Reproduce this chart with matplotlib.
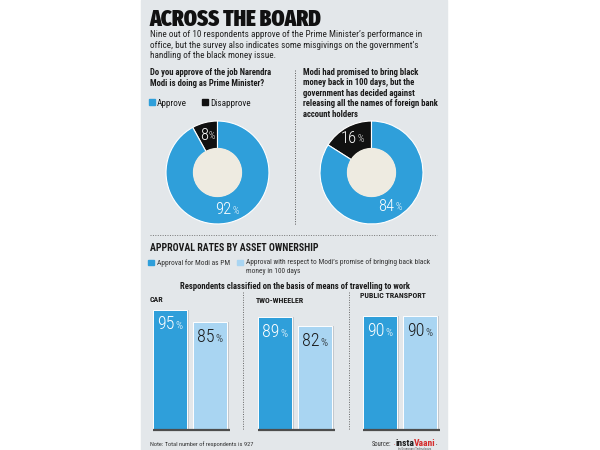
import matplotlib
matplotlib.use("Agg")
import matplotlib.pyplot as plt
import numpy as np
from matplotlib.patches import Rectangle, Circle
from matplotlib import font_manager as fm

# ---------------- data ----------------
title = "ACROSS THE BOARD"
subtitle_lines = [
    "Nine out of 10 respondents approve of the Prime Minister\u2019s performance in",
    "office, but the survey also indicates some misgivings on the government\u2019s",
    "handling of the black money issue.",
]
q1_lines = ["Do you approve of the job Narendra", "Modi is doing as Prime Minister?"]
q2_lines = ["Modi had promised to bring black", "money back in 100 days, but the",
            "government has decided against", "releasing all the names of foreign bank",
            "account holders"]
pie_labels = ["Disapprove", "Approve"]
pie1_values = [8, 92]
pie2_values = [16, 84]

section_title = "APPROVAL RATES BY ASSET OWNERSHIP"
series_names = ["Approval for Modi as PM",
                "Approval with respect to Modi\u2019s promise of bringing back black\nmoney in 100 days"]
bar_subtitle = "Respondents classified on the basis of means of travelling to work"
categories = ["CAR", "TWO-WHEELER", "PUBLIC TRANSPORT"]
approval_pm = [95, 89, 90]
approval_promise = [85, 82, 90]
note = "Note: Total number of respondents is 927"

# ---------------- style ----------------
BG = "#e3e7ea"
BLUE = "#2f9fda"
LBLUE = "#a9d5f2"
BLACK = "#111111"
CREAM = "#eeebe1"
FONT = ["Roboto Condensed", "DejaVu Sans"]


def pick_title_font():
    for fam, wt in (("Fira Sans Extra Condensed", 900), ("Fira Sans Extra Condensed", 800),
                    ("Fira Sans Extra Condensed", 700), ("Roboto Condensed", 700)):
        try:
            p = fm.FontProperties(family=fam, weight=wt, style="normal")
            path = fm.findfont(p, fallback_to_default=False)
        except Exception:
            continue
        base = path.split("/")[-1].lower()
        if "italic" not in base and fam.split()[0].lower() in base:
            return fm.FontProperties(fname=path, size=16.3)
    return fm.FontProperties(family="DejaVu Sans", weight="bold", size=15)


fig = plt.figure(figsize=(6, 4.5), dpi=100)
fig.patch.set_facecolor("white")

bg = fig.add_axes([0, 0, 1, 1])
bg.set_xlim(0, 600)
bg.set_ylim(450, 0)
bg.axis("off")
bg.add_patch(Rectangle((141, 0), 306, 450, color=BG, zorder=0))


def t(x, y, s, size=7, weight="normal", color="#1a1a1a", family=FONT, **kw):
    kw.setdefault("va", "baseline")
    return bg.text(x, y, s, fontsize=size, fontweight=weight, color=color,
                   family=family, **kw)


# title and subtitle
bg.text(149.5, 25.5, title, fontproperties=pick_title_font(), color="#111111", va="baseline")
for i, line in enumerate(subtitle_lines):
    t(150, 37 + 10.6 * i, line, size=6.6, color="#222222")

# questions
for i, line in enumerate(q1_lines):
    t(150, 75 + 10.5 * i, line, size=6.2, weight="bold")
for i, line in enumerate(q2_lines):
    t(303, 75 + 10.4 * i, line, size=6.2, weight="bold")

# legend (pies)
bg.add_patch(Rectangle((149, 99), 6, 6, color=BLUE))
t(157, 105.5, pie_labels[1], size=6.6)
bg.add_patch(Rectangle((202, 99), 5.5, 6, color=BLACK))
t(210, 105.5, pie_labels[0], size=6.6)

# separators
bg.plot([294.5, 294.5], [70, 225], ls=(0, (1, 1.5)), color="#555555", lw=0.7)
bg.plot([150, 437], [235, 235], ls=(0, (1, 1.5)), color="#777777", lw=0.7)
for xs in (243, 349):
    bg.plot([xs, xs], [292, 430], ls=(0, (1, 1.5)), color="#666666", lw=0.7)


def pct_label(ax, x, y, num, size, color, dy=0, va="center"):
    num_t = ax.annotate(str(num), xy=(x, y), xytext=(-size * 0.22, dy),
                        textcoords="offset points", ha="center", va=va,
                        fontsize=size, color=color, family=FONT, fontweight="light")
    ax.annotate("%", xy=(1, 0.12), xycoords=num_t, xytext=(0.5, 0),
                textcoords="offset points", ha="left", va="bottom",
                fontsize=size * 0.6, color=color, family=FONT, fontweight="light")


# donuts
def donut(cx, cy, r, values, txtcolors):
    ax = fig.add_axes([(cx - r) / 600, 1 - (cy + r) / 450, 2 * r / 600, 2 * r / 450])
    wedges, _ = ax.pie(values, colors=[BLACK, BLUE], startangle=90, counterclock=True,
                       radius=1, wedgeprops=dict(width=0.54, edgecolor="white", linewidth=0.8))
    ax.add_patch(Circle((0, 0), 0.465, color=CREAM, zorder=5))
    ax.set_xlim(-1.02, 1.02)
    ax.set_ylim(-1.02, 1.02)
    ax.axis("off")
    for w, v, c in zip(wedges, values, txtcolors):
        ang = np.deg2rad((w.theta1 + w.theta2) / 2)
        pct_label(ax, 0.75 * np.cos(ang), 0.75 * np.sin(ang), v, 12, c)


donut(217.5, 172.5, 52.5, pie1_values, ["white", "white"])
donut(371.5, 172.5, 52.5, pie2_values, ["white", "white"])

# section heading and legend
t(150, 251, section_title, size=7.1, weight="bold")
bg.add_patch(Rectangle((148, 259.5), 5.5, 5.5, color=BLUE))
t(157, 265, series_names[0], size=5.4, color="#333333")
bg.add_patch(Rectangle((237, 259.5), 5.5, 5.5, color=LBLUE))
t(246, 258.5, series_names[1], size=5.3, color="#333333", linespacing=1.35, va="top")
t(295, 289, bar_subtitle, size=6.2, weight="bold", ha="center")

for lab, x, y in zip(categories, (150, 256, 360), (302, 303, 298)):
    t(x, y, lab, size=5.7, weight="bold")

# bars
bx = fig.add_axes([141 / 600, 20 / 450, 306 / 600, 126.5 / 450])
bx.set_xlim(-0.4667, 2.4476)
bx.set_ylim(0, 100)
bx.axis("off")
idx = np.arange(len(categories))
off, w = 0.1905, 0.3238
for vals, xpos, col in ((approval_pm, idx - off, BLUE), (approval_promise, idx + off, LBLUE)):
    bx.bar(xpos + 0.022, vals, width=w, color="#c3c8cd", zorder=1, clip_on=False)
    bx.bar(xpos, vals, width=w, color=col, edgecolor="white", linewidth=0.7,
           zorder=2, clip_on=False)
for i in idx:
    bx.hlines(0, i - off - w / 2, i + off + w / 2 + 0.03, color="#4d4d4d", lw=1.6,
              zorder=3, clip_on=False)
for xv, v in zip(idx - off, approval_pm):
    pct_label(bx, xv, v, v, 13, "white", dy=-4, va="top")
for xv, v in zip(idx + off, approval_promise):
    pct_label(bx, xv, v, v, 13, "#1a1a1a", dy=-4, va="top")

# note and source
t(150, 446, note, size=4.6, color="#333333")
t(372, 446, "Source:", size=4.8, color="#333333")
insta = t(396, 446, "insta", size=6.8, weight="bold", color="#1a1a1a", ha="left")
vaani = bg.annotate("Vaani", xy=(1, 0), xycoords=insta, xytext=(-0.9, 0),
                    textcoords="offset points", ha="left", va="bottom",
                    fontsize=6.8, fontweight="bold", color="#d52b2b", family=FONT)
bg.annotate("\u2022", xy=(1, 0.05), xycoords=vaani, xytext=(0.3, 0),
            textcoords="offset points", ha="left", va="bottom",
            fontsize=3, color="#1a1a1a", family=FONT)
bg.annotate("\u2022", xy=(0, 0.05), xycoords=insta, xytext=(-0.5, 0),
            textcoords="offset points", ha="right", va="bottom",
            fontsize=3, color="#d52b2b", family=FONT)
t(415, 449.6, "by Gramvaani Technologies", size=2.2, color="#555555", ha="center")

fig.savefig("out.png", dpi=100, facecolor="white")
